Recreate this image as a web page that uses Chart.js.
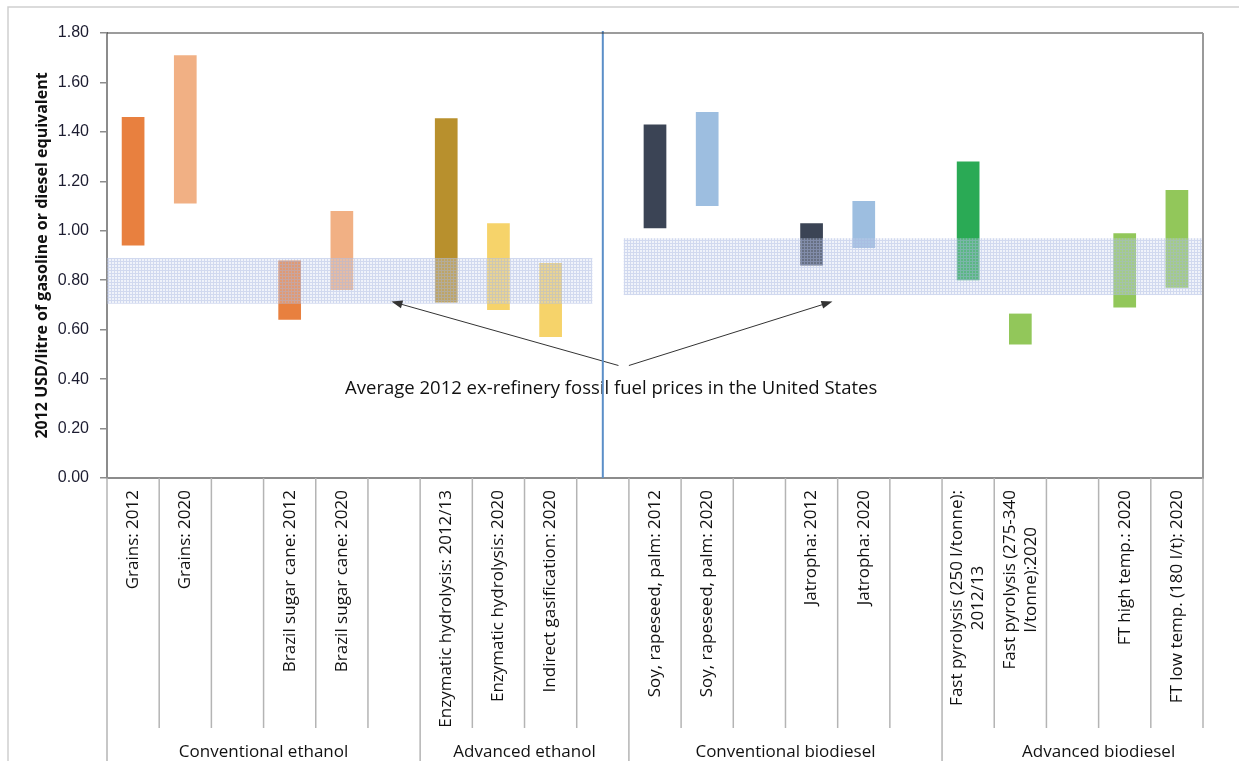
<!DOCTYPE html>
<html>
<head>
<meta charset="utf-8">
<script src="https://cdn.jsdelivr.net/npm/chart.js@4"></script>
<style>
  html, body { margin: 0; padding: 0; background: #fff; }
  #wrap { width: 1239px; height: 761px; }
</style>
</head>
<body>
<div id="wrap"><canvas id="costChart" width="1239" height="761"></canvas></div>
<script>
// categories (empty strings are the gaps between technologies)
const categories = [
  'Grains: 2012', 'Grains: 2020', '',
  'Brazil sugar cane: 2012', 'Brazil sugar cane: 2020', '',
  'Enzymatic hydrolysis: 2012/13', 'Enzymatic hydrolysis: 2020', 'Indirect gasification: 2020', '',
  'Soy, rapeseed, palm: 2012', 'Soy, rapeseed, palm: 2020', '',
  'Jatropha: 2012', 'Jatropha: 2020', '',
  ['Fast pyrolysis (250 l/tonne):', '2012/13'], ['Fast pyrolysis (275-340', 'l/tonne):2020'], '',
  'FT high temp.: 2020', 'FT low temp. (180 l/t): 2020'
];

// cost ranges, USD/litre
const costLow  = [0.94, 1.11, null, 0.64, 0.76, null, 0.71, 0.68, 0.57, null, 1.01, 1.10, null, 0.86, 0.93, null, 0.80, 0.54, null, 0.69, 0.77];
const costHigh = [1.46, 1.71, null, 0.88, 1.08, null, 1.455, 1.03, 0.87, null, 1.43, 1.48, null, 1.03, 1.12, null, 1.28, 0.665, null, 0.99, 1.165];

const barColors = [
  '#e8803f', '#f1b084', null, '#e8803f', '#f1b084', null,
  '#b8902d', '#f6d36a', '#f6d36a', null,
  '#3b4455', '#9dbee0', null, '#3b4455', '#9dbee0', null,
  '#2aaa55', '#92c75a', null, '#92c75a', '#92c75a'
];

// fossil fuel price bands: [low, high]
const gasolineBand = [0.705, 0.89];
const dieselBand = [0.74, 0.97];

const groupNames = ['Conventional ethanol', 'Advanced ethanol', 'Conventional biodiesel', 'Advanced biodiesel'];
const groupStart = [0, 6, 10, 16];
const groupEnd = [5, 9, 15, 21];

const yTicks = [0, 0.2, 0.4, 0.6, 0.8, 1.0, 1.2, 1.4, 1.6, 1.8];

const noteText = 'Average 2012 ex-refinery fossil fuel prices in the United States';
const labelFont = '17px "Open Sans"';

function bandPattern() {
  const c = document.createElement('canvas');
  c.width = 3; c.height = 3;
  const g = c.getContext('2d');
  g.fillStyle = 'rgba(205,214,240,0.3)';
  g.fillRect(0, 0, 3, 3);
  g.fillStyle = 'rgba(165,180,225,0.42)';
  g.fillRect(0, 0, 3, 1);
  g.fillRect(0, 1, 1, 2);
  return c;
}

function arrow(ctx, x1, y1, x2, y2) {
  const a = Math.atan2(y2 - y1, x2 - x1);
  ctx.beginPath();
  ctx.moveTo(x1, y1);
  ctx.lineTo(x2 - 8 * Math.cos(a), y2 - 8 * Math.sin(a));
  ctx.stroke();
  ctx.beginPath();
  ctx.moveTo(x2, y2);
  ctx.lineTo(x2 - 11 * Math.cos(a) + 4 * Math.sin(a), y2 - 11 * Math.sin(a) - 4 * Math.cos(a));
  ctx.lineTo(x2 - 11 * Math.cos(a) - 4 * Math.sin(a), y2 - 11 * Math.sin(a) + 4 * Math.cos(a));
  ctx.closePath();
  ctx.fill();
}

const decor = {
  id: 'decor',
  beforeDraw(chart) {
    const ctx = chart.ctx;
    ctx.save();
    ctx.fillStyle = '#fff';
    ctx.fillRect(0, 0, chart.width, chart.height);
    ctx.strokeStyle = '#cfcfcf';
    ctx.lineWidth = 1.5;
    ctx.beginPath();
    ctx.moveTo(8, chart.height);
    ctx.lineTo(8, 7);
    ctx.lineTo(chart.width, 7);
    ctx.stroke();
    ctx.restore();
  },
  afterDatasetsDraw(chart) {
    const ctx = chart.ctx, xs = chart.scales.x, ys = chart.scales.y, area = chart.chartArea;
    ctx.save();
    const pat = ctx.createPattern(bandPattern(), 'repeat');
    ctx.fillStyle = pat;
    // gasoline band over the ethanol half, diesel band over the biodiesel half
    let x0 = area.left, x1 = xs.getPixelForValue(8.8);
    ctx.fillRect(x0, ys.getPixelForValue(gasolineBand[1]), x1 - x0, ys.getPixelForValue(gasolineBand[0]) - ys.getPixelForValue(gasolineBand[1]));
    x0 = xs.getPixelForValue(9.4); x1 = area.right;
    ctx.fillRect(x0, ys.getPixelForValue(dieselBand[1]), x1 - x0, ys.getPixelForValue(dieselBand[0]) - ys.getPixelForValue(dieselBand[1]));

    // note + arrows
    ctx.strokeStyle = '#333';
    ctx.fillStyle = '#333';
    ctx.lineWidth = 1;
    arrow(ctx, xs.getPixelForValue(9.3), ys.getPixelForValue(0.455), xs.getPixelForValue(4.95), ys.getPixelForValue(0.714));
    arrow(ctx, xs.getPixelForValue(9.5), ys.getPixelForValue(0.455), xs.getPixelForValue(13.4), ys.getPixelForValue(0.714));
    ctx.fillStyle = '#111';
    ctx.font = '18.5px "Open Sans"';
    ctx.textAlign = 'center';
    ctx.textBaseline = 'middle';
    ctx.fillText(noteText, xs.getPixelForValue(9.16), ys.getPixelForValue(0.36));

    // divider between ethanol and biodiesel
    ctx.strokeStyle = '#5b8fc8';
    ctx.lineWidth = 2;
    ctx.beginPath();
    ctx.moveTo(xs.getPixelForValue(9), area.top - 2);
    ctx.lineTo(xs.getPixelForValue(9), area.bottom);
    ctx.stroke();
    ctx.restore();
  },
  afterDraw(chart) {
    const ctx = chart.ctx, xs = chart.scales.x, area = chart.chartArea;
    ctx.save();
    // top and right plot border
    ctx.strokeStyle = '#3a3a3a';
    ctx.lineWidth = 1.2;
    ctx.beginPath();
    ctx.moveTo(area.left, area.top);
    ctx.lineTo(area.right, area.top);
    ctx.stroke();
    ctx.strokeStyle = '#9a9a9a';
    ctx.lineWidth = 2;
    ctx.beginPath();
    ctx.moveTo(area.right, area.top);
    ctx.lineTo(area.right, area.bottom);
    ctx.stroke();

    // category dividers below the axis
    ctx.strokeStyle = '#b4b4b4';
    ctx.lineWidth = 1.5;
    for (let k = 0; k <= categories.length; k++) {
      const x = xs.getPixelForValue(k - 0.5);
      const full = groupStart.includes(k);
      ctx.beginPath();
      ctx.moveTo(x, area.bottom);
      ctx.lineTo(x, full ? chart.height : area.bottom + 250);
      ctx.stroke();
    }

    // rotated category labels
    ctx.fillStyle = '#111';
    ctx.font = labelFont;
    ctx.textBaseline = 'middle';
    ctx.textAlign = 'center';
    categories.forEach((lab, i) => {
      if (!lab) return;
      const lines = Array.isArray(lab) ? lab : [lab];
      const w = Math.max(...lines.map(l => ctx.measureText(l).width));
      const cx = xs.getPixelForValue(i);
      const cy = area.bottom + 12 + w / 2;
      lines.forEach((l, j) => {
        ctx.save();
        ctx.translate(cx + (j - (lines.length - 1) / 2) * 21, cy);
        ctx.rotate(-Math.PI / 2);
        ctx.fillText(l, 0, 0);
        ctx.restore();
      });
    });

    // group labels
    groupNames.forEach((g, i) => {
      const mid = (groupStart[i] + groupEnd[i]) / 2;
      ctx.fillText(g, xs.getPixelForValue(mid), chart.height - 9);
    });

    // y axis title
    ctx.font = 'bold 16px "Open Sans"';
    ctx.save();
    ctx.translate(42, (area.top + area.bottom) / 2);
    ctx.rotate(-Math.PI / 2);
    ctx.fillText('2012 USD/litre of gasoline or diesel equivalent', 0, 0);
    ctx.restore();
    ctx.restore();
  }
};

new Chart(document.getElementById('costChart').getContext('2d'), {
  type: 'bar',
  data: {
    labels: categories,
    datasets: [{
      data: categories.map((c, i) => costLow[i] == null ? null : [costLow[i], costHigh[i]]),
      backgroundColor: barColors,
      borderWidth: 0,
      barPercentage: 0.435,
      categoryPercentage: 1
    }]
  },
  options: {
    responsive: false,
    animation: false,
    devicePixelRatio: 1,
    layout: { padding: { top: 33, right: 36, left: 0, bottom: 0 } },
    plugins: { legend: { display: false }, tooltip: { enabled: false } },
    scales: {
      x: {
        grid: { display: false },
        ticks: { display: false },
        border: { color: '#8c8c8c', width: 2 },
        afterFit(s) { s.height = 283; }
      },
      y: {
        min: 0,
        max: 1.8,
        afterBuildTicks(s) { s.ticks = yTicks.map(v => ({ value: v })); },
        ticks: {
          padding: 11,
          color: '#1c1c30',
          font: { family: 'Liberation Sans', size: 16 },
          callback: v => v.toFixed(2)
        },
        grid: { drawOnChartArea: false, drawTicks: true, tickLength: 7, color: '#8c8c8c', lineWidth: 1.5 },
        border: { color: '#8c8c8c', width: 2 },
        afterFit(s) { s.width = 107; }
      }
    }
  },
  plugins: [decor]
});
</script>
</body>
</html>
